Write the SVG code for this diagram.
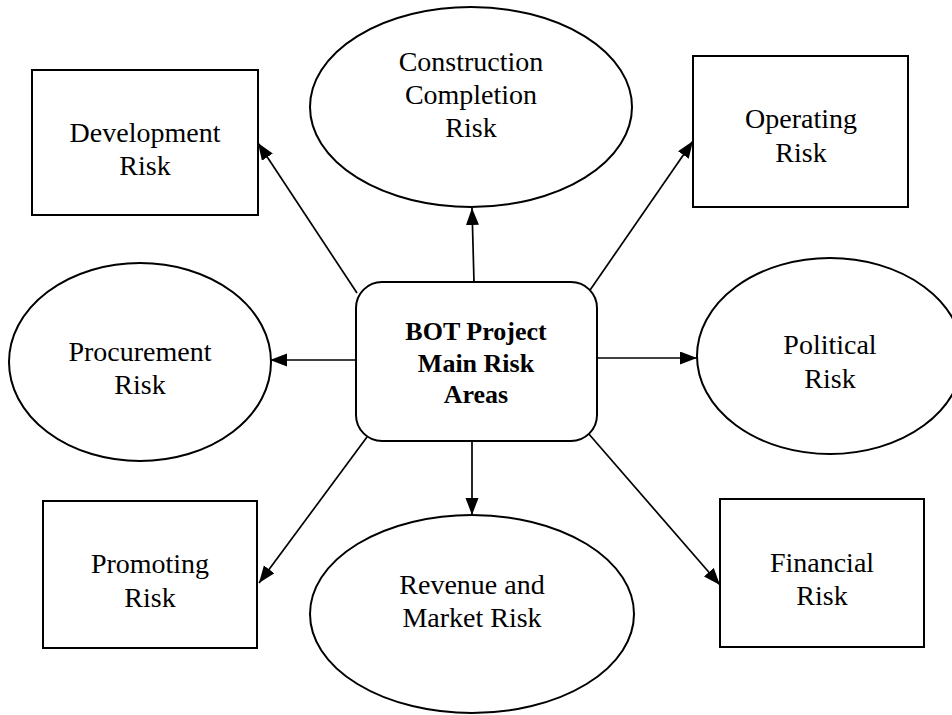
<svg xmlns="http://www.w3.org/2000/svg" width="952" height="715" viewBox="0 0 952 715">
<defs>
<marker id="ah" markerUnits="userSpaceOnUse" markerWidth="18" markerHeight="14" refX="17" refY="6.5" orient="auto">
<path d="M0,0 L17,6.5 L0,13 z" fill="#000"/>
</marker>
<style>
.shape{fill:#fff;stroke:#000;stroke-width:2}
.t{font-family:"Liberation Serif","Times New Roman",serif;font-size:28px;text-anchor:middle;fill:#000}
.b{font-family:"Liberation Serif","Times New Roman",serif;font-size:26px;font-weight:bold;text-anchor:middle;fill:#000}
.c{stroke:#000;stroke-width:1.7;fill:none;marker-end:url(#ah)}
</style>
</defs>
<rect width="952" height="715" fill="#fff"/>
<g id="connectors">
<line class="c" x1="357" y1="293" x2="258" y2="143"/>
<line class="c" x1="474" y1="282" x2="472" y2="208"/>
<line class="c" x1="588" y1="293" x2="693" y2="141"/>
<line class="c" x1="356" y1="360" x2="270" y2="360"/>
<line class="c" x1="597" y1="358" x2="697" y2="358"/>
<line class="c" x1="367" y1="437" x2="259" y2="583"/>
<line class="c" x1="472" y1="441" x2="472" y2="515"/>
<line class="c" x1="588" y1="433" x2="720" y2="585"/>
</g>
<g id="development">
<rect class="shape" x="32" y="70" width="226" height="145"/>
<text class="t" x="145" y="142">Development</text>
<text class="t" x="145" y="175">Risk</text>
</g>
<g id="construction">
<ellipse class="shape" cx="471" cy="107" rx="161" ry="100"/>
<text class="t" x="471" y="71">Construction</text>
<text class="t" x="471" y="104">Completion</text>
<text class="t" x="471" y="137">Risk</text>
</g>
<g id="operating">
<rect class="shape" x="693" y="56" width="215" height="151"/>
<text class="t" x="801" y="128">Operating</text>
<text class="t" x="801" y="162">Risk</text>
</g>
<g id="procurement">
<ellipse class="shape" cx="140" cy="362" rx="131" ry="99"/>
<text class="t" x="140" y="361">Procurement</text>
<text class="t" x="140" y="394">Risk</text>
</g>
<g id="center">
<rect class="shape" x="356" y="282" width="241" height="159" rx="26" ry="26"/>
<text class="b" x="476" y="340">BOT Project</text>
<text class="b" x="476" y="372">Main Risk</text>
<text class="b" x="476" y="403">Areas</text>
</g>
<g id="political">
<ellipse class="shape" cx="830" cy="356" rx="133" ry="98"/>
<text class="t" x="830" y="354">Political</text>
<text class="t" x="830" y="388">Risk</text>
</g>
<g id="promoting">
<rect class="shape" x="43" y="501" width="214" height="147"/>
<text class="t" x="150" y="573">Promoting</text>
<text class="t" x="150" y="607">Risk</text>
</g>
<g id="revenue">
<ellipse class="shape" cx="472" cy="614" rx="162" ry="99"/>
<text class="t" x="472" y="594">Revenue and</text>
<text class="t" x="472" y="627">Market Risk</text>
</g>
<g id="financial">
<rect class="shape" x="720" y="499" width="204" height="148"/>
<text class="t" x="822" y="572">Financial</text>
<text class="t" x="822" y="605">Risk</text>
</g>
</svg>
